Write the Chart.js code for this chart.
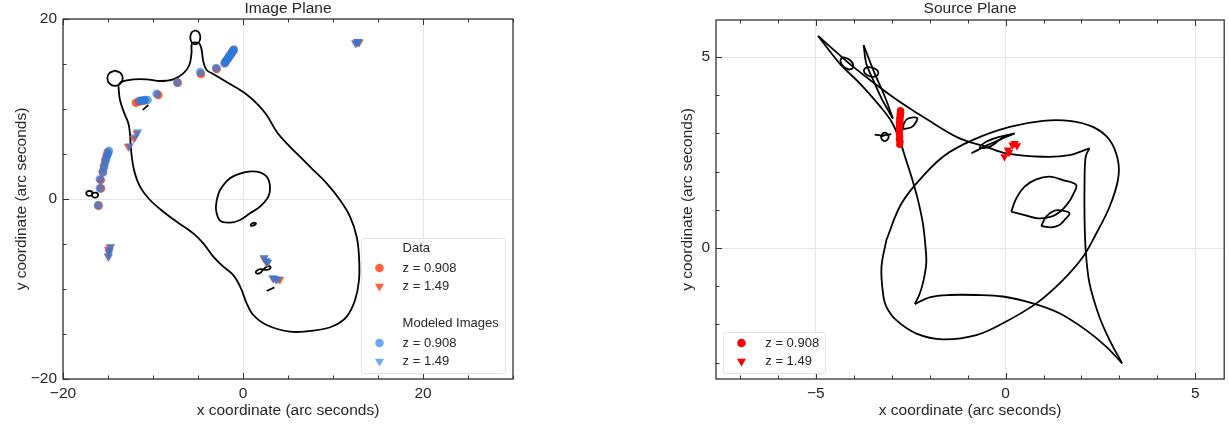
<!DOCTYPE html>
<html>
<head>
<meta charset="utf-8">
<script src="https://cdn.jsdelivr.net/npm/chart.js@4.4.0/dist/chart.umd.min.js"></script>
<style>
  body { margin: 0; background: #fff; width: 1229px; height: 427px; overflow: hidden; position: relative; }
  canvas { position: absolute; top: 0; }
  #img { left: 0; }
  #src { left: 615px; }
</style>
</head>
<body>
<canvas id="img" width="615" height="427"></canvas>
<canvas id="src" width="614" height="427"></canvas>
<script>
// ---------- Image plane ----------
const imgXTicks = [-20, 0, 20];
const imgYTicks = [-20, 0, 20];

// critical curves
const critOuter = [[-13.85,12.67],[-13.67,11.0],[-13.11,9.33],[-12.74,8.41],[-12.56,7.30],[-12.44,5.44],[-12.11,3.22],[-11.44,1.37],[-10.33,-0.11],[-8.85,-1.41],[-7.37,-2.52],[-5.52,-3.82],[-4.41,-4.93],[-3.30,-6.41],[-2.19,-7.52],[-1.26,-8.26],[-0.70,-9.0],[-0.15,-10.11],[0.41,-11.59],[1.15,-12.89],[2.63,-14.0],[5.22,-14.74],[7.82,-14.63],[10.04,-14.11],[11.52,-13.07],[12.45,-11.22],[12.89,-9.0],[12.89,-6.41],[12.63,-4.19],[11.89,-1.96],[10.78,-0.11],[9.30,1.74],[7.82,3.22],[6.33,4.70],[4.85,6.19],[3.74,7.48],[2.63,9.33],[1.52,10.63],[0.22,11.74],[-1.07,12.56],[-2.19,13.22],[-3.30,13.89],[-4.04,14.33],[-4.41,15.26],[-4.62,16.7],[-4.9,17.3],[-5.65,17.3],[-5.72,16.19],[-5.96,14.89],[-6.63,13.96],[-7.74,13.30],[-9.22,13.11],[-10.70,13.30],[-12.18,13.30],[-13.48,13.04],[-13.85,12.67]];
const critInner = [[-2.92,-0.11],[-2.55,1.0],[-1.44,2.30],[0.04,2.93],[1.52,3.04],[2.63,2.48],[3.0,1.37],[2.81,0.26],[1.89,-0.85],[0.78,-1.59],[-0.33,-2.33],[-1.44,-2.63],[-2.55,-2.41],[-3.0,-1.22],[-2.92,-0.11]];
const earLeft = [[-14.22,14.26],[-13.62,14.01],[-13.37,13.41],[-13.62,12.81],[-14.22,12.56],[-14.82,12.81],[-15.07,13.41],[-14.82,14.01],[-14.22,14.26]];
const earTop = [[-5.3,18.74],[-4.90,18.51],[-4.74,17.96],[-4.90,17.41],[-5.3,17.18],[-5.70,17.41],[-5.86,17.96],[-5.70,18.51],[-5.3,18.74]];
const loopA = [[-17.07,0.91],[-16.82,0.83],[-16.72,0.63],[-16.82,0.43],[-17.07,0.35],[-17.32,0.43],[-17.42,0.63],[-17.32,0.83],[-17.07,0.91]];
const loopB = [[-16.44,0.72],[-16.19,0.64],[-16.09,0.44],[-16.19,0.24],[-16.44,0.16],[-16.69,0.24],[-16.79,0.44],[-16.69,0.64],[-16.44,0.72]];
const loopTiny = [[0.8,-2.9],[1.0,-2.72],[1.3,-2.62],[1.45,-2.72],[1.25,-2.9],[0.95,-2.98],[0.8,-2.9]];
const loopEight = [[2.24,-7.83],[2.55,-7.58],[2.9,-7.45],[3.07,-7.58],[2.92,-7.8],[2.55,-7.88],[2.24,-7.83],[1.93,-7.8],[1.6,-7.92],[1.42,-8.12],[1.58,-8.3],[1.93,-8.2],[2.24,-7.83]];
const dashLow = [[2.63,-10.22],[3.1,-10.0],[3.48,-9.82]];
const strokeUp = [[-11.15,9.89],[-10.85,10.15],[-10.52,10.44]];

// observed images
const dataZ1 = [[-1.07,16.55],[-1.18,16.37],[-1.30,16.15],[-1.44,16.0],[-1.58,15.80],[-1.70,15.59],[-1.85,15.38],[-2.0,15.15],[-2.93,14.44],[-4.67,13.89],[-7.26,12.93],[-9.41,11.56],[-11.89,10.70],[-11.59,10.81],[-11.30,10.89],[-11.0,10.93],[-15.04,5.18],[-15.15,4.81],[-15.30,4.33],[-15.44,3.70],[-15.59,3.04],[-15.81,2.11],[-15.78,1.18],[-16.04,-0.74]];
const dataZ2 = [[12.55,17.35],[12.75,17.45],[12.9,17.4],[-11.81,7.30],[-12.11,6.74],[-12.74,5.81],[-14.78,-5.37],[-14.95,-5.6],[-14.89,-5.85],[-14.96,-6.33],[2.33,-6.59],[2.56,-6.96],[2.7,-7.1],[3.37,-8.81],[3.74,-8.93],[4.1,-8.95]];
// modeled images
const modelZ1 = [[-1.0,16.6],[-1.12,16.45],[-1.25,16.25],[-1.38,16.05],[-1.52,15.85],[-1.65,15.65],[-1.80,15.45],[-1.95,15.25],[-2.05,15.05],[-2.98,14.55],[-4.75,14.1],[-7.3,12.95],[-9.6,11.7],[-11.5,10.9],[-11.2,10.95],[-10.9,11.0],[-10.6,11.0],[-14.9,5.35],[-15.0,5.0],[-15.15,4.6],[-15.3,4.1],[-15.45,3.5],[-15.55,2.95],[-15.9,2.2],[-15.9,1.2],[-16.1,-0.7]];
const modelZ2 = [[12.5,17.3],[12.7,17.5],[12.85,17.45],[-11.7,7.45],[-12.0,6.9],[-12.6,5.9],[-14.7,-5.3],[-14.85,-5.7],[-14.9,-6.0],[-14.95,-6.45],[2.35,-6.5],[2.6,-6.85],[2.75,-7.05],[3.3,-8.75],[3.6,-8.9],[3.9,-8.9]];

// ---------- Source plane ----------
const srcXTicks = [-5, 0, 5];
const srcYTicks = [0, 5];

const caustEllipse = [[-3.14,0.21],[-2.79,1.08],[-2.35,1.69],[-1.65,2.39],[-0.86,2.83],[0.11,3.17],[0.98,3.33],[1.68,3.33],[2.30,3.17],[2.74,2.83],[2.96,2.30],[2.96,1.78],[2.74,1.08],[2.39,0.38],[2.04,-0.23],[1.51,-0.84],[0.81,-1.45],[-0.07,-1.97],[-0.77,-2.28],[-1.65,-2.39],[-2.35,-2.24],[-2.88,-1.89],[-3.14,-1.54],[-3.23,-1.19],[-3.27,-0.49],[-3.14,0.21]];
const edgeAB = [[-4.94,5.55],[-4.37,5.05],[-4.02,4.75],[-3.40,4.27],[-2.79,3.83],[-2.04,3.35],[-1.21,2.87],[-0.51,2.65],[0.02,2.48],[0.98,2.39],[1.68,2.43],[2.21,2.61]];
const edgeBC = [[2.21,2.61],[2.11,2.39],[2.08,1.69],[2.08,0.82],[2.11,-0.05],[2.21,-0.92],[2.47,-1.80],[2.74,-2.41],[3.07,-3.02]];
const edgeCD = [[3.07,-3.02],[2.65,-2.58],[2.12,-2.15],[1.42,-1.71],[0.72,-1.45],[-0.07,-1.27],[-0.77,-1.23],[-1.47,-1.23],[-2.0,-1.29],[-2.39,-1.47]];
const edgeDA = [[-2.39,-1.47],[-2.26,-1.19],[-2.16,-0.84],[-2.09,-0.40],[-2.11,0.03],[-2.18,0.65],[-2.31,1.26],[-2.46,1.80],[-2.62,2.30],[-2.80,2.85],[-3.0,3.30],[-3.30,3.70],[-3.84,4.31],[-4.37,4.83],[-4.94,5.55]];
const wedgeE1 = [[-3.74,5.31],[-3.60,4.95],[-3.45,4.57],[-3.18,3.96],[-2.97,3.39]];
const wedgeE2 = [[-3.74,5.31],[-3.67,4.83],[-3.49,4.40],[-3.27,3.92],[-3.05,3.53],[-2.97,3.39]];
const ovalA = [[-4.027,4.701],[-4.017,4.804],[-4.103,4.922],[-4.234,4.986],[-4.333,4.959],[-4.343,4.856],[-4.257,4.738],[-4.126,4.674],[-4.027,4.701]];
const ovalB = [[-3.347,4.558],[-3.382,4.655],[-3.509,4.726],[-3.655,4.729],[-3.733,4.662],[-3.698,4.565],[-3.571,4.494],[-3.425,4.491],[-3.347,4.558]];
const leafSmall = [[-2.70,3.11],[-2.68,3.26],[-2.57,3.39],[-2.33,3.41],[-2.37,3.28],[-2.48,3.16],[-2.70,3.11]];
const loopTail = [[-3.45,2.97],[-3.30,2.95],[-3.28,2.92],[-3.22,3.01],[-3.13,3.0],[-3.08,2.91],[-3.13,2.82],[-3.22,2.81],[-3.28,2.9],[-3.20,2.95],[-3.01,2.98]];
const fishA = [[-0.90,2.48],[-0.42,2.72],[0.24,3.0]];
const fishB = [[0.24,3.0],[-0.16,2.91],[-0.51,2.78],[-0.68,2.63],[-0.42,2.65],[-0.16,2.83],[0.06,2.96]];
const leafBig = [[0.149,0.951],[0.281,1.300],[0.50,1.606],[0.807,1.798],[1.158,1.867],[1.509,1.780],[1.860,1.649],[1.772,1.387],[1.640,1.169],[1.465,0.977],[1.202,0.820],[0.851,0.777],[0.50,0.864],[0.149,0.951]];
const leafLow = [[0.939,0.576],[1.070,0.820],[1.289,0.977],[1.509,0.977],[1.684,0.908],[1.553,0.733],[1.421,0.602],[1.202,0.541],[0.939,0.576]];

const srcZ1 = [[-2.77,3.60],[-2.76,3.55],[-2.78,3.50],[-2.77,3.45],[-2.79,3.40],[-2.78,3.34],[-2.80,3.28],[-2.79,3.22],[-2.80,3.15],[-2.79,3.08],[-2.80,3.00],[-2.79,2.92],[-2.80,2.85],[-2.78,2.78],[-2.79,2.71]];
const srcZ2 = [[-0.03,2.39],[0.06,2.57],[0.09,2.50],[0.18,2.70],[0.24,2.74],[0.30,2.68]];

const FONT = "'Liberation Sans', Arial, sans-serif";
const TEXT = '#262626';
Chart.defaults.font.family = FONT;
Chart.defaults.color = TEXT;

const dataRed = 'rgba(255,80,40,0.9)';
const modelBlue = 'rgba(30,125,232,0.65)';

function fmt(v) {
  return v < 0 ? '\u2212' + Math.abs(v) : String(v);
}

function curve(points) {
  return { data: points, showLine: true, pointRadius: 0, borderColor: '#000', borderWidth: 1.8, tension: 0.35, order: 2 };
}
function marks(points, color, style, r, order) {
  return { data: points, pointStyle: style, pointRotation: style === 'triangle' ? 180 : 0, pointRadius: r,
    backgroundColor: color, borderWidth: 0, order: order };
}

function drawMarker(ctx, style, x, y, r, color) {
  ctx.fillStyle = color;
  ctx.beginPath();
  if (style === 'circle') {
    ctx.arc(x, y, r, 0, Math.PI * 2);
  } else {
    ctx.moveTo(x, y + r);
    ctx.lineTo(x - r * 0.866, y - r / 2);
    ctx.lineTo(x + r * 0.866, y - r / 2);
    ctx.closePath();
  }
  ctx.fill();
}

// frame, inward ticks, title and legend
const framePlugin = {
  id: 'frame',
  afterDraw(chart, args, o) {
    const { ctx, chartArea: a, scales: { x, y } } = chart;
    ctx.save();
    ctx.strokeStyle = '#333';
    ctx.lineWidth = 1;
    ctx.beginPath();
    const walk = (scale, step, major, fn) => {
      for (let v = Math.ceil(scale.min / step) * step; v <= scale.max + 1e-9; v += step) {
        const isMajor = Math.abs(v / major - Math.round(v / major)) < 1e-6;
        fn(Math.round(scale.getPixelForValue(v)) + 0.5, isMajor ? 6 : 3.5);
      }
    };
    walk(x, o.xStep, o.xMajor, (p, l) => {
      ctx.moveTo(p, a.bottom); ctx.lineTo(p, a.bottom - l);
      ctx.moveTo(p, a.top); ctx.lineTo(p, a.top + l);
    });
    walk(y, o.yStep, o.yMajor, (p, l) => {
      ctx.moveTo(a.left, p); ctx.lineTo(a.left + l, p);
    });
    ctx.stroke();
    ctx.lineWidth = 1.3;
    ctx.strokeRect(a.left, a.top, a.right - a.left, a.bottom - a.top);

    ctx.fillStyle = TEXT;
    ctx.font = '15.5px ' + FONT;
    ctx.textAlign = 'center';
    ctx.textBaseline = 'middle';
    ctx.fillText(o.title, (a.left + a.right) / 2, 9);

    const L = o.legend;
    const bx = L.anchor === 'right' ? a.right - 8 - L.w : a.left + 7;
    const by = a.bottom - 6 - L.h;
    ctx.fillStyle = 'rgba(255,255,255,0.85)';
    ctx.strokeStyle = '#e3e3e3';
    ctx.lineWidth = 1;
    ctx.beginPath();
    ctx.roundRect(bx + 0.5, by + 0.5, L.w, L.h, 3);
    ctx.fill();
    ctx.stroke();
    ctx.font = '13px ' + FONT;
    ctx.textAlign = 'left';
    L.rows.forEach(row => {
      if (row.style) drawMarker(ctx, row.style, bx + 18.5, by + row.dy, row.r, row.color);
      ctx.fillStyle = TEXT;
      ctx.fillText(row.text, bx + L.tx, by + row.dy);
    });
    ctx.restore();
  }
};

function axes(xMin, xMax, yMin, yMax, xTicks, yTicks, yWidth, yTitlePad) {
  const common = {
    type: 'linear',
    bounds: 'data',
    grid: { color: '#e6e6e6', lineWidth: 1, drawTicks: false },
    border: { display: false }
  };
  return {
    x: Object.assign({}, common, {
      min: xMin, max: xMax,
      afterBuildTicks: s => { s.ticks = xTicks.map(v => ({ value: v })); },
      afterFit: s => { s.height = 48; },
      ticks: { font: { size: 15.5 }, padding: 5, maxRotation: 0, autoSkip: false, callback: fmt },
      title: { display: true, text: 'x coordinate (arc seconds)', font: { size: 15.5 }, padding: { top: 0, bottom: 6.7 } }
    }),
    y: Object.assign({}, common, {
      min: yMin, max: yMax,
      afterBuildTicks: s => { s.ticks = yTicks.map(v => ({ value: v })); },
      afterFit: s => { s.width = yWidth; },
      ticks: { font: { size: 15.5 }, padding: 6, autoSkip: false, callback: fmt },
      title: { display: true, text: 'y coordinate (arc seconds)', font: { size: 15.5 }, padding: { top: yTitlePad, bottom: 0 } }
    })
  };
}

new Chart(document.getElementById('img'), {
  type: 'scatter',
  data: {
    datasets: [
      marks(modelZ1, modelBlue, 'circle', 4.3, 0),
      marks(modelZ2, modelBlue, 'triangle', 5.2, 0),
      marks(dataZ1, dataRed, 'circle', 4.3, 1),
      marks(dataZ2, dataRed, 'triangle', 5.2, 1),
      curve(critOuter), curve(critInner), curve(earLeft), curve(earTop),
      curve(loopA), curve(loopB), curve(loopTiny), curve(loopEight),
      curve(dashLow), curve(strokeUp)
    ]
  },
  options: {
    responsive: false,
    animation: false,
    events: [],
    layout: { padding: { left: 0, right: 102, top: 19, bottom: 0 } },
    scales: axes(-20, 30, -20, 20, imgXTicks, imgYTicks, 63, 12.7),
    plugins: {
      legend: { display: false },
      tooltip: { enabled: false },
      frame: {
        xStep: 5, xMajor: 20, yStep: 5, yMajor: 20, title: 'Image Plane',
        legend: {
          anchor: 'right', w: 144, h: 135, tx: 41.6,
          rows: [
            { text: 'Data', dy: 10 },
            { text: 'z = 0.908', dy: 30, style: 'circle', r: 4.3, color: dataRed },
            { text: 'z = 1.49', dy: 48.3, style: 'triangle', r: 5.2, color: dataRed },
            { text: 'Modeled Images', dy: 85.6 },
            { text: 'z = 0.908', dy: 105, style: 'circle', r: 4.3, color: modelBlue },
            { text: 'z = 1.49', dy: 123.3, style: 'triangle', r: 5.2, color: modelBlue }
          ]
        }
      }
    }
  },
  plugins: [framePlugin]
});

new Chart(document.getElementById('src'), {
  type: 'scatter',
  data: {
    datasets: [
      marks(srcZ1, '#ff0000', 'circle', 3.6, 0),
      marks(srcZ2, '#ff0000', 'triangle', 4.8, 0),
      curve(caustEllipse), curve(edgeAB), curve(edgeBC), curve(edgeCD), curve(edgeDA),
      curve(wedgeE1), curve(wedgeE2), curve(ovalA), curve(ovalB), curve(leafSmall),
      curve(loopTail), curve(fishA), curve(fishB), curve(leafBig), curve(leafLow)
    ]
  },
  options: {
    responsive: false,
    animation: false,
    events: [],
    layout: { padding: { left: 0, right: 4, top: 20, bottom: 0 } },
    scales: axes(-7.63, 5.76, -3.43, 5.97, srcXTicks, srcYTicks, 101, 63),
    plugins: {
      legend: { display: false },
      tooltip: { enabled: false },
      frame: {
        xStep: 1, xMajor: 5, yStep: 1, yMajor: 5, title: 'Source Plane',
        legend: {
          anchor: 'left', w: 102, h: 41, tx: 42.3,
          rows: [
            { text: 'z = 0.908', dy: 11, style: 'circle', r: 4.3, color: '#ff0000' },
            { text: 'z = 1.49', dy: 29.3, style: 'triangle', r: 5.2, color: '#ff0000' }
          ]
        }
      }
    }
  },
  plugins: [framePlugin]
});
</script>
</body>
</html>
